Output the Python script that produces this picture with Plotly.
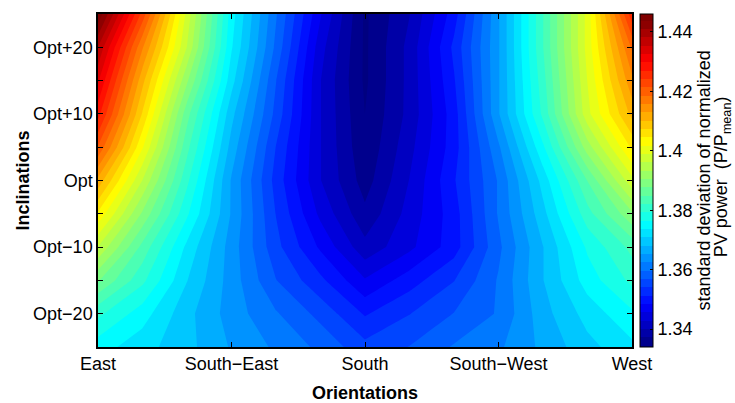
import plotly.graph_objects as go

# Orientation nodes (degrees from South; East = -90, West = +90)
orientations = [-90, -75, -60, -45, -30, -15, 0, 15, 30, 45, 60, 75, 90]
# Inclination offsets from optimum (degrees)
inclinations = [-25, -20, -15, -10, -5, 0, 5, 10, 15, 20, 25]

# standard deviation of normalized PV power, one row per inclination (bottom to top)
row_m25 = [1.375, 1.372, 1.369, 1.365, 1.362, 1.359, 1.355, 1.357, 1.360, 1.362, 1.366, 1.370, 1.373]
row_m20 = [1.380, 1.375, 1.369, 1.364, 1.360, 1.356, 1.351, 1.354, 1.357, 1.360, 1.367, 1.372, 1.376]
row_m15 = [1.388, 1.380, 1.371, 1.364, 1.357, 1.352, 1.346, 1.350, 1.354, 1.360, 1.368, 1.375, 1.380]
row_m10 = [1.396, 1.384, 1.373, 1.364, 1.355, 1.348, 1.341, 1.345, 1.350, 1.359, 1.368, 1.377, 1.383]
row_m05 = [1.404, 1.390, 1.377, 1.365, 1.354, 1.345, 1.338, 1.344, 1.350, 1.360, 1.370, 1.381, 1.390]
row_p00 = [1.412, 1.396, 1.380, 1.365, 1.353, 1.343, 1.336, 1.343, 1.351, 1.360, 1.372, 1.385, 1.398]
row_p05 = [1.421, 1.402, 1.383, 1.367, 1.354, 1.343, 1.335, 1.342, 1.350, 1.362, 1.376, 1.392, 1.405]
row_p10 = [1.428, 1.407, 1.386, 1.369, 1.356, 1.343, 1.3345, 1.341, 1.350, 1.365, 1.380, 1.398, 1.411]
row_p15 = [1.433, 1.411, 1.391, 1.372, 1.357, 1.343, 1.334, 1.341, 1.351, 1.365, 1.381, 1.399, 1.415]
row_p20 = [1.438, 1.416, 1.396, 1.374, 1.359, 1.344, 1.334, 1.341, 1.352, 1.365, 1.382, 1.400, 1.419]
row_p25 = [1.446, 1.423, 1.398, 1.375, 1.360, 1.346, 1.334, 1.340, 1.350, 1.365, 1.382, 1.400, 1.426]

z = [row_m25, row_m20, row_m15, row_m10, row_m05, row_p00,
     row_p05, row_p10, row_p15, row_p20, row_p25]

x_tickvals = [-90, -45, 0, 45, 90]
x_ticktext = ["East", "South\u2212East", "South", "South\u2212West", "West"]
y_tickvals = [-20, -15, -10, -5, 0, 5, 10, 15, 20]
y_ticktext = ["Opt\u221220", "", "Opt\u221210", "", "Opt", "", "Opt+10", "", "Opt+20"]
cb_tickvals = [1.34, 1.36, 1.38, 1.40, 1.42, 1.44]
cb_ticktext = ["1.34", "1.36", "1.38", "1.4", "1.42", "1.44"]

jet = [
    [0.0, "rgb(0,0,128)"],
    [0.125, "rgb(0,0,255)"],
    [0.375, "rgb(0,255,255)"],
    [0.625, "rgb(255,255,0)"],
    [0.875, "rgb(255,0,0)"],
    [1.0, "rgb(128,0,0)"],
]

FONT = "Liberation Sans, Arial, Helvetica, sans-serif"

fig = go.Figure()
fig.add_trace(go.Contour(
    x=orientations, y=inclinations, z=z,
    colorscale=jet,
    zauto=False, zmin=1.334, zmax=1.446,
    contours=dict(start=1.3345, end=1.446, size=0.0028, coloring="fill"),
    line=dict(width=0, smoothing=0),
    colorbar=dict(
        thickness=13, len=1, lenmode="fraction", y=0.5, yanchor="middle", ypad=0,
        x=1.015, xanchor="left", xpad=0,
        outlinewidth=1, outlinecolor="black",
        ticks="inside", ticklen=3, tickcolor="black",
        tickvals=cb_tickvals, ticktext=cb_ticktext,
        tickfont=dict(family=FONT, size=18, color="black"),
    ),
))

fig.update_layout(
    width=735, height=403,
    margin=dict(l=98, r=103, t=14, b=56, autoexpand=False),
    paper_bgcolor="white", plot_bgcolor="white",
    font=dict(family=FONT, size=18, color="black"),
    xaxis=dict(
        range=[-90, 90], tickvals=x_tickvals, ticktext=x_ticktext,
        ticks="inside", ticklen=5, tickcolor="black",
        showline=True, linecolor="black", linewidth=1.5, mirror="ticks",
        showgrid=False, zeroline=False, automargin=False,
    ),
    yaxis=dict(
        range=[-25, 25], tickvals=y_tickvals, ticktext=y_ticktext,
        ticks="inside", ticklen=5, tickcolor="black",
        showline=True, linecolor="black", linewidth=1.5, mirror="ticks",
        showgrid=False, zeroline=False, automargin=False,
    ),
    annotations=[
        dict(text="<b>Orientations</b>", xref="paper", yref="paper",
             x=0.5, y=-0.138, xanchor="center", yanchor="middle",
             showarrow=False, font=dict(family=FONT, size=18, color="black")),
        dict(text="<b>Inclinations</b>", xref="paper", yref="paper",
             x=-0.1423, y=0.5, xanchor="center", yanchor="middle", textangle=-90,
             showarrow=False, font=dict(family=FONT, size=18, color="black")),
        dict(text="standard deviation of normalized",
             xref="paper", yref="paper", x=(703 - 98) / 534, y=0.5,
             xanchor="center", yanchor="middle", textangle=-90,
             showarrow=False, font=dict(family=FONT, size=18, color="black")),
        dict(text="PV power  (P/P<sub>mean</sub>)",
             xref="paper", yref="paper", x=(722 - 98) / 534, y=0.51,
             xanchor="center", yanchor="middle", textangle=-90,
             showarrow=False, font=dict(family=FONT, size=18, color="black")),
    ],
)

fig.write_html("out.html")
